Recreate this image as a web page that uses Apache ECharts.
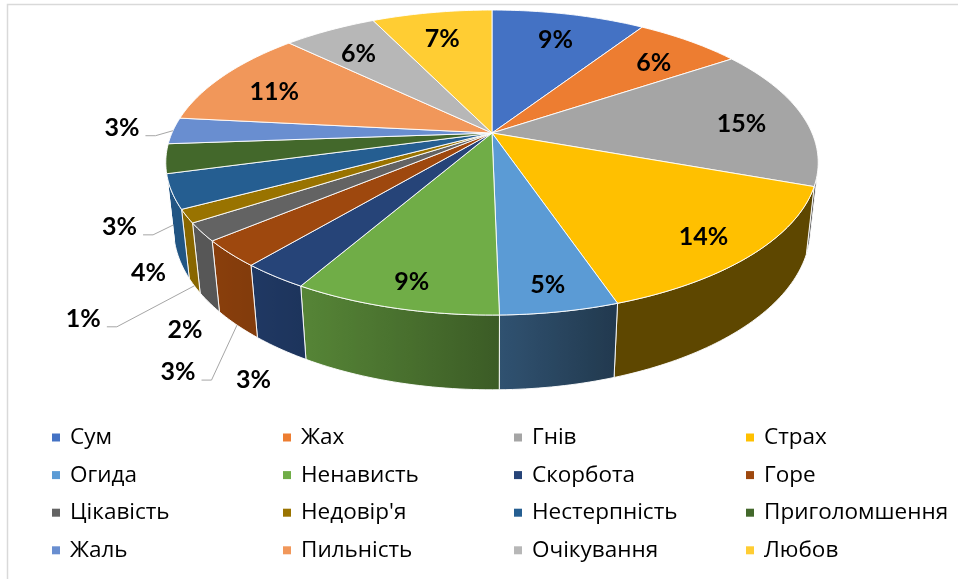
<!DOCTYPE html>
<html><head><meta charset="utf-8">
<script src="https://cdn.jsdelivr.net/npm/echarts@6/dist/echarts.min.js"></script>
<style>html,body{margin:0;padding:0;background:#fff}#c{width:958px;height:579px}</style>
</head><body><div id="c"></div>
<script>
// ---- data ----
const categories = ['Сум','Жах','Гнів','Страх','Огида','Ненависть','Скорбота','Горе','Цікавість',"Недовір'я",'Нестерпність','Приголомшення','Жаль','Пильність','Очікування','Любов'];
const values = [9.2, 6.4, 15.0, 14.3, 4.9, 8.6, 2.8, 2.8, 1.9, 1.4, 3.6, 3.1, 2.8, 10.6, 5.6, 7.2];
const colors = ['#4472C4','#ED7D31','#A5A5A5','#FFC000','#5B9BD5','#70AD47','#264478','#9E480E','#636363','#997300','#255E91','#43682B','#698ED0','#F1975A','#B7B7B7','#FFCD33'];

// ---- layout (label placement for small slices: dx, dy from anchor, leader line) ----
const outsideLabelOffsets = {
  'Скорбота': [-27, 31, false],
  'Горе': [-59, 47, true],
  'Цікавість': [-24, 27, false],
  "Недовір'я": [-111, 33, true],
  'Нестерпність': [-31, 13, false],
  'Приголомшення': [-54, 2, true],
  'Жаль': [-51, -3, true]
};
const G = {cx: 492, cy: 133, F: 1469, d: 4.59, elev: 27.3, t: 0.233, labelR: 0.8, labelDy: 5};
const LABEL_FONT = 'bold 25px Lato';

const total = values.reduce((a, b) => a + b, 0);
const cum = [];
values.reduce((acc, v, i) => { cum[i] = acc; return acc + v; }, 0);

const rad = Math.PI / 180;
const sE = Math.sin(G.elev * rad), cE = Math.cos(G.elev * rad);
function proj(thDeg, r, Y) {
  const th = thDeg * rad;
  const X = r * Math.sin(th), Z = -r * Math.cos(th);
  const depth = Z * cE + Y * sE;
  const up = Y * cE - Z * sE;
  const k = G.F / (G.d - depth);
  return [G.cx + X * k, G.cy - up * k];
}
const zVis = 1 / (G.d * cE);
const visA = Math.acos(-zVis) / rad, visB = 360 - visA;

function hexRgb(h) { return [parseInt(h.slice(1,3),16), parseInt(h.slice(3,5),16), parseInt(h.slice(5,7),16)]; }
function shadeAt(thDeg, hex) {
  const th = thDeg * rad;
  const dot = -0.95 * Math.sin(th) + 0.31 * (-Math.cos(th));
  const s = 0.37 + 0.54 * Math.max(0, dot);
  const c = hexRgb(hex).map(v => Math.round(Math.min(255, v * s)));
  return 'rgb(' + c.join(',') + ')';
}
const measureCtx = document.createElement('canvas').getContext('2d');
measureCtx.font = LABEL_FONT;

function renderSlice(params, api) {
  const i = params.seriesIndex;
  const v = api.value(0);
  const a0 = cum[i] / total * 360;
  const a1 = a0 + v / total * 360;
  const color = colors[i];
  const children = [];
  // side wall (only the part facing the viewer)
  const wa = Math.max(a0, visA), wb = Math.min(a1, visB);
  if (wb > wa) {
    const n = Math.max(2, Math.ceil(wb - wa));
    const topPts = [], botPts = [], stopsRaw = [];
    for (let j = 0; j <= n; j++) {
      const th = wa + (wb - wa) * j / n;
      topPts.push(proj(th, 1, 0));
      botPts.push(proj(th, 1, -G.t));
    }
    const pts = topPts.concat(botPts.slice().reverse());
    const xs = pts.map(p => p[0]);
    const minX = Math.min.apply(null, xs), maxX = Math.max.apply(null, xs);
    for (let j = 0; j <= n; j++) {
      const th = wa + (wb - wa) * j / n;
      const off = maxX > minX ? (topPts[j][0] - minX) / (maxX - minX) : 0;
      stopsRaw.push({offset: Math.min(1, Math.max(0, off)), color: shadeAt(th, color)});
    }
    stopsRaw.sort((p, q) => p.offset - q.offset);
    children.push({
      type: 'polygon', z2: 1,
      shape: {points: pts},
      style: {fill: {type: 'linear', x: 0, y: 0, x2: 1, y2: 0, colorStops: stopsRaw}, stroke: 'rgba(255,255,255,0.9)', lineWidth: 1}
    });
  }
  // top face
  const nt = Math.max(2, Math.ceil(a1 - a0));
  const tp = [[G.cx, G.cy]];
  for (let j = 0; j <= nt; j++) tp.push(proj(a0 + (a1 - a0) * j / nt, 1, 0));
  children.push({type: 'polygon', z2: 10, shape: {points: tp}, style: {fill: color, stroke: 'rgba(255,255,255,0.9)', lineWidth: 1}});
  // data label
  const pct = v / total * 100;
  const txt = Math.round(pct) + '%';
  const mid = (a0 + a1) / 2;
  const off = outsideLabelOffsets[categories[i]];
  if (!off) {
    const p = proj(mid, G.labelR + 0.05 * Math.max(0, -Math.cos(mid * rad)), 0);
    children.push({type: 'text', z2: 20, style: {text: txt, x: p[0], y: p[1] + G.labelDy, align: 'center', verticalAlign: 'middle', font: LABEL_FONT, fill: '#000'}});
  } else {
    const anchor = Math.cos(mid * rad) < 0 ? proj(mid, 1, -G.t) : proj(mid, 1, 0);
    const lx = anchor[0] + off[0], ly = anchor[1] + off[1];
    children.push({type: 'text', z2: 20, style: {text: txt, x: lx, y: ly, align: 'center', verticalAlign: 'middle', font: LABEL_FONT, fill: '#000'}});
    if (off[2]) {
      const hw = measureCtx.measureText(txt).width / 2;
      children.push({type: 'polyline', z2: 20, shape: {points: [[lx + hw + 6, ly + 8], [lx + hw + 16, ly + 8], anchor]}, style: {stroke: '#A6A6A6', lineWidth: 1, fill: null}});
    }
  }
  return {type: 'group', children: children};
}

const chart = echarts.init(document.getElementById('c'), null, {renderer: 'canvas'});
const legendLeft = [52, 283, 514, 746];
chart.setOption({
  animation: false,
  backgroundColor: '#fff',
  color: colors,
  graphic: [{type: 'rect', silent: true, z: -10, shape: {x: 7.5, y: 4.5, width: 1200, height: 1200}, style: {fill: '#fff', stroke: '#D9D9D9', lineWidth: 1.5}}],
  legend: legendLeft.map((lx, col) => ({
    orient: 'vertical', left: lx, top: 426, padding: 0, selectedMode: false,
    data: [col, col + 4, col + 8, col + 12].map(k => categories[k]),
    icon: 'rect', itemWidth: 8, itemHeight: 8, itemGap: 14.6,
    textStyle: {fontFamily: 'Open Sans', fontSize: 22.5, lineHeight: 22, color: '#000', padding: [0, 0, 0, 5]}
  })),
  series: categories.map((name, i) => ({
    type: 'custom', name: name, coordinateSystem: 'none',
    renderItem: renderSlice,
    data: [[values[i]]]
  }))
});
</script></body></html>
